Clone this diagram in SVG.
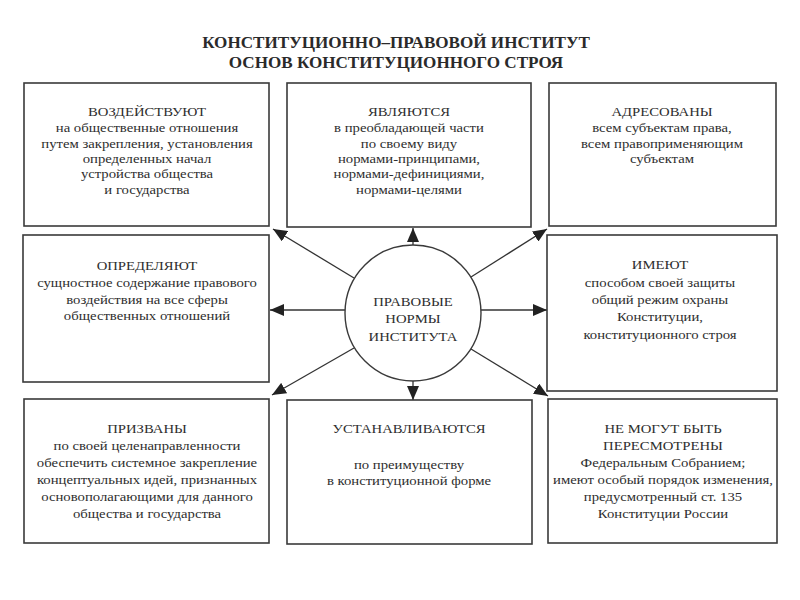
<svg xmlns="http://www.w3.org/2000/svg" width="800" height="600" viewBox="0 0 800 600">
<style>
.box{fill:#fff;stroke:#3a3a3a;stroke-width:1.6}
.t{font-family:"Liberation Serif","Times New Roman",serif;fill:#2e2e2e;text-anchor:middle;font-size:13.5px}
.title{font-family:"Liberation Serif","Times New Roman",serif;font-weight:bold;font-size:17.1px;fill:#2a2a2a;text-anchor:middle}
.c{fill:none;stroke:#333;stroke-width:1.3}
</style>
<defs>
<marker id="ah" markerUnits="userSpaceOnUse" markerWidth="14" markerHeight="12" viewBox="0 0 14 12" refX="14" refY="6" orient="auto">
<path d="M0,0 L14,6 L0,12 Z" fill="#222"/>
</marker>
</defs>
<rect width="800" height="600" fill="#fff"/>
<g id="title">
<text class="title" x="396" y="48">КОНСТИТУЦИОННО–ПРАВОВОЙ ИНСТИТУТ</text>
<text class="title" x="396" y="68">ОСНОВ КОНСТИТУЦИОННОГО СТРОЯ</text>
</g>
<g id="connectors">
<line class="c" x1="413" y1="245" x2="413" y2="228" marker-end="url(#ah)"/>
<line class="c" x1="413" y1="381" x2="413" y2="400" marker-end="url(#ah)"/>
<line class="c" x1="345" y1="310" x2="270" y2="310" marker-end="url(#ah)"/>
<line class="c" x1="481" y1="310" x2="547" y2="310" marker-end="url(#ah)"/>
<line class="c" x1="354" y1="278" x2="273" y2="229" marker-end="url(#ah)"/>
<line class="c" x1="471" y1="277" x2="547" y2="229" marker-end="url(#ah)"/>
<line class="c" x1="354" y1="348" x2="272" y2="395" marker-end="url(#ah)"/>
<line class="c" x1="471" y1="349" x2="548" y2="396" marker-end="url(#ah)"/>
</g>
<g id="center">
<circle cx="413" cy="313" r="68" fill="#fff" stroke="#3a3a3a" stroke-width="1.4"/>
<g transform="translate(413,0) scale(1.09,1)">
<text class="t" x="0" y="306">ПРАВОВЫЕ</text>
<text class="t" x="0" y="323">НОРМЫ</text>
<text class="t" x="0" y="341">ИНСТИТУТА</text>
</g>
</g>
<g id="n1">
<rect class="box" x="24" y="83" width="245" height="143"/>
<g transform="translate(147,0) scale(1.09,1)">
<text class="t" x="0" y="116">ВОЗДЕЙСТВУЮТ</text>
<text class="t" x="0" y="132">на общественные отношения</text>
<text class="t" x="0" y="148">путем закрепления, установления</text>
<text class="t" x="0" y="163">определенных начал</text>
<text class="t" x="0" y="178">устройства общества</text>
<text class="t" x="0" y="194">и государства</text>
</g>
</g>
<g id="n2">
<rect class="box" x="287" y="83" width="244" height="144"/>
<g transform="translate(409,0) scale(1.09,1)">
<text class="t" x="0" y="116">ЯВЛЯЮТСЯ</text>
<text class="t" x="0" y="132">в преобладающей части</text>
<text class="t" x="0" y="148">по своему виду</text>
<text class="t" x="0" y="163">нормами-принципами,</text>
<text class="t" x="0" y="178">нормами-дефинициями,</text>
<text class="t" x="0" y="194">нормами-целями</text>
</g>
</g>
<g id="n3">
<rect class="box" x="549" y="83" width="227" height="143"/>
<g transform="translate(662,0) scale(1.09,1)">
<text class="t" x="0" y="116">АДРЕСОВАНЫ</text>
<text class="t" x="0" y="132">всем субъектам права,</text>
<text class="t" x="0" y="148">всем правоприменяющим</text>
<text class="t" x="0" y="163">субъектам</text>
</g>
</g>
<g id="n4">
<rect class="box" x="23" y="235" width="246" height="147"/>
<g transform="translate(147,0) scale(1.09,1)">
<text class="t" x="0" y="270">ОПРЕДЕЛЯЮТ</text>
<text class="t" x="0" y="287">сущностное содержание правового</text>
<text class="t" x="0" y="304">воздействия на все сферы</text>
<text class="t" x="0" y="320">общественных отношений</text>
</g>
</g>
<g id="n5">
<rect class="box" x="547" y="235" width="230" height="156"/>
<g transform="translate(660,0) scale(1.09,1)">
<text class="t" x="0" y="269">ИМЕЮТ</text>
<text class="t" x="0" y="287">способом своей защиты</text>
<text class="t" x="0" y="304">общий режим охраны</text>
<text class="t" x="0" y="321">Конституции,</text>
<text class="t" x="0" y="339">конституционного строя</text>
</g>
</g>
<g id="n6">
<rect class="box" x="24" y="399" width="245" height="144"/>
<g transform="translate(147,0) scale(1.09,1)">
<text class="t" x="0" y="433">ПРИЗВАНЫ</text>
<text class="t" x="0" y="450">по своей целенаправленности</text>
<text class="t" x="0" y="467">обеспечить системное закрепление</text>
<text class="t" x="0" y="484">концептуальных идей, признанных</text>
<text class="t" x="0" y="501">основополагающими для данного</text>
<text class="t" x="0" y="518">общества и государства</text>
</g>
</g>
<g id="n7">
<rect class="box" x="287" y="400" width="245" height="144"/>
<g transform="translate(409,0) scale(1.09,1)">
<text class="t" x="0" y="433">УСТАНАВЛИВАЮТСЯ</text>
<text class="t" x="0" y="469">по преимуществу</text>
<text class="t" x="0" y="485">в конституционной форме</text>
</g>
</g>
<g id="n8">
<rect class="box" x="548" y="399" width="229" height="144"/>
<g transform="translate(663,0) scale(1.09,1)">
<text class="t" x="0" y="433">НЕ МОГУТ БЫТЬ</text>
<text class="t" x="0" y="450">ПЕРЕСМОТРЕНЫ</text>
<text class="t" x="0" y="467">Федеральным Собранием;</text>
<text class="t" x="0" y="484">имеют особый порядок изменения,</text>
<text class="t" x="0" y="501">предусмотренный ст. 135</text>
<text class="t" x="0" y="518">Конституции России</text>
</g>
</g>
</svg>
